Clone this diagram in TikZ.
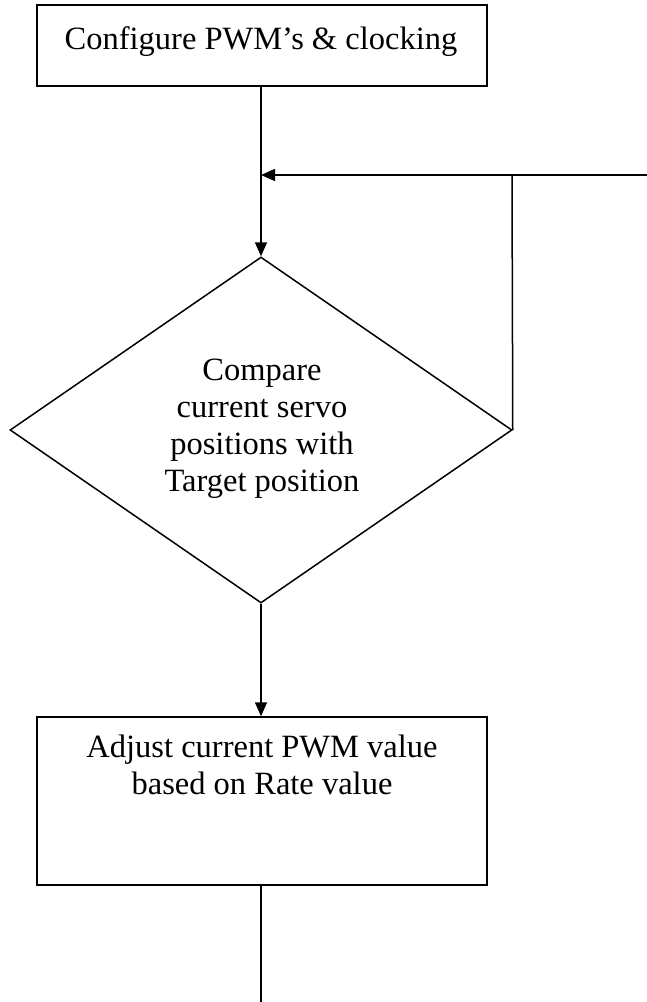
\documentclass[tikz,border=0pt]{standalone}
\usepackage{fontspec}
\setmainfont{Liberation Serif}
\usetikzlibrary{arrows.meta,shapes.geometric}
\tikzset{
  flow/.style={line width=1.5pt},
  arr/.style={flow,-{Triangle[length=14pt,width=12pt]}},
  txt/.style={align=center,font=\fontsize{32.5}{37}\selectfont,inner sep=0pt},
  boxshape/.style={draw,flow,rectangle,inner sep=0pt}
}
\begin{document}
\begin{tikzpicture}[x=1pt,y=-1pt]
\useasboundingbox(0,0)rectangle(647,1002);
% boxes
\node[boxshape,minimum width=450pt,minimum height=81pt](cfg)at(262,45.5){};
\node[txt](cfgtxt)at(261,41.5){Configure PWM’s \& clocking};
\node[draw,flow,diamond,inner sep=0pt,minimum width=502pt,minimum height=346pt](cmp)at(261,430){};
\node[txt](cmptxt)at(262,429){Compare\\current servo\\positions with\\Target position};
\node[boxshape,minimum width=450pt,minimum height=168pt](adj)at(262,801){};
\node[txt](adjtxt)at(262,765){Adjust current PWM value\\based on Rate value};
% connectors
\coordinate(fbR)at(647,175);
\coordinate(fbJ)at(512,175);
\coordinate(out)at(261,1002);
\draw[arr](cmp.north|-cfg.south)--(cmp.north);
\draw[arr](fbR)--(cmp.north|-fbR);
\draw[flow](cmp.east)--(fbJ);
\draw[arr](cmp.south)--(cmp.south|-adj.north);
\draw[flow](cmp.south|-adj.south)--(out);
\end{tikzpicture}
\end{document}
